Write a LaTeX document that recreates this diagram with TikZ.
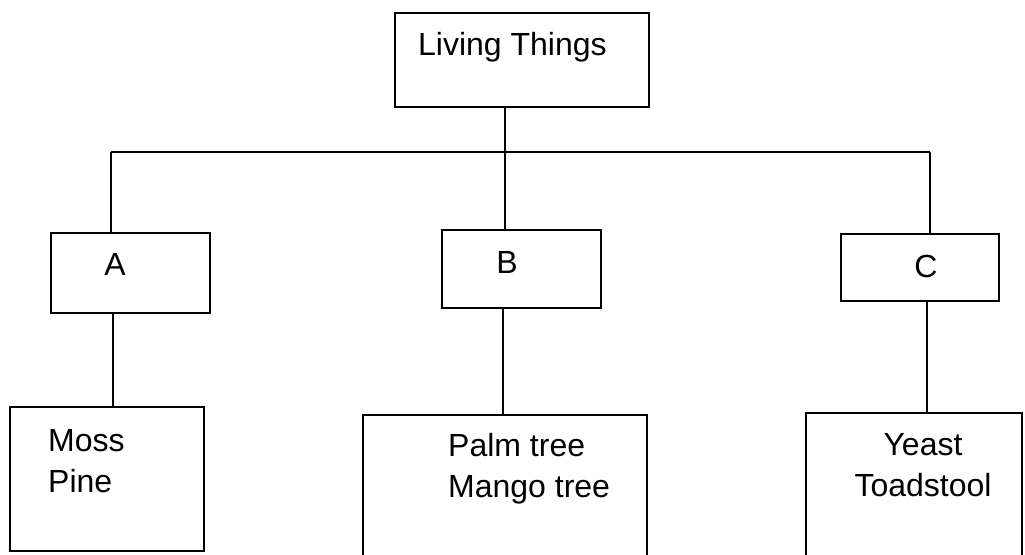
\documentclass[tikz,border=0pt]{standalone}
\usepackage{fontspec}
\setmainfont{Liberation Sans}
\begin{document}
\begin{tikzpicture}[x=1pt,y=-1pt,
  box/.style={draw,line width=1.6pt,rectangle,inner sep=0pt},
  lbl/.style={inner sep=0pt,font=\fontsize{32}{41}\selectfont},
  conn/.style={line width=1.6pt}]
\useasboundingbox (0,0) rectangle (1025,554);
\clip (0,0) rectangle (1025,554);
% boxes
\node[box,minimum width=254pt,minimum height=94pt] (lt) at (522,60) {};
\node[box,minimum width=159pt,minimum height=80pt] (A) at (130.5,273) {};
\node[box,minimum width=159pt,minimum height=78pt] (B) at (521.5,269) {};
\node[box,minimum width=158pt,minimum height=67pt] (C) at (920,267.5) {};
\node[box,minimum width=194pt,minimum height=144pt] (moss) at (107,479) {};
\node[box,minimum width=284pt,minimum height=160pt] (palm) at (505,495) {};
\node[box,minimum width=216pt,minimum height=160pt] (yeast) at (914,493) {};
% texts
\node[lbl,anchor=base west] (ltt) at (418,55) {Living Things};
\node[lbl] (At) at (115,264) {A};
\node[lbl] (Bt) at (507,262) {B};
\node[lbl] (Ct) at (926,266) {C};
\node[lbl,anchor=base west,align=left] (mosst) at (48,492) {Moss\\Pine};
\node[lbl,anchor=base west,align=left] (palmt) at (448,497) {Palm tree\\Mango tree};
\node[lbl,anchor=base,align=center] (yeastt) at (923,496) {Yeast\\Toadstool};
% connector coordinates
\coordinate (j) at (505,152);
\coordinate (hA) at (111,152);
\coordinate (hC) at (930,152);
\coordinate (vA) at (113,0);
\coordinate (vB) at (503,0);
\coordinate (vC) at (927,0);
% connectors
\draw[conn] (lt.south -| j) -- (j);
\draw[conn] (hA) -- (hC);
\draw[conn] (hA) -- (hA |- A.north);
\draw[conn] (j) -- (j |- B.north);
\draw[conn] (hC) -- (hC |- C.north);
\draw[conn] (A.south -| vA) -- (moss.north -| vA);
\draw[conn] (B.south -| vB) -- (palm.north -| vB);
\draw[conn] (C.south -| vC) -- (yeast.north -| vC);
\end{tikzpicture}
\end{document}
